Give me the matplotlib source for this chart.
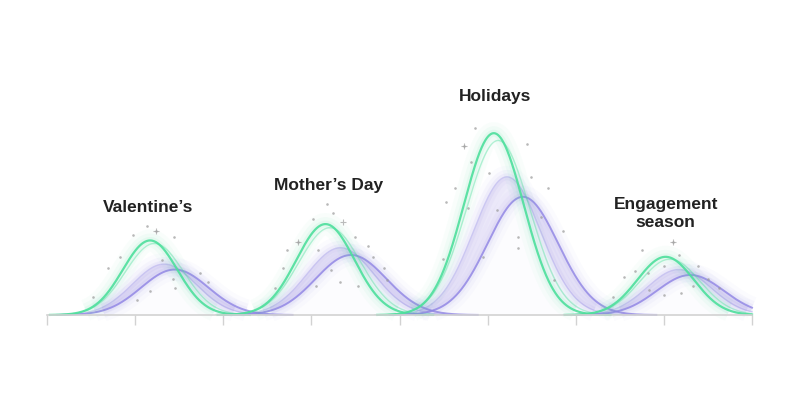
import numpy as np
import matplotlib.pyplot as plt

# seasonal peaks: green = searches, purple = purchases (band between two purple curves)
seasons = ["Valentine\u2019s", "Mother\u2019s Day", "Holidays", "Engagement\nseason"]
green_center = [1.17, 3.16, 5.07, 7.02]
green_height = [41, 50, 100, 32]
green_width = [0.31, 0.33, 0.34, 0.32]
purple_center = [1.45, 3.45, 5.40, 7.30]
purple_height = [25, 33, 65, 22]
purple_width = [0.38, 0.40, 0.40, 0.38]
band_center = [1.33, 3.33, 5.22, 7.17]
band_height = [28, 37, 76, 25]
band_width = [0.36, 0.38, 0.38, 0.36]
label_x = [1.15, 3.19, 5.08, 7.02]
label_y = [59, 71, 120, 56]

# sparkle dots
dot_x = [1.14, 1.24, 0.98, 1.44, 0.69, 1.30, 1.45, 0.52, 1.17, 1.74, 1.43, 1.02, 1.83, 0.83,
         3.18, 3.24, 3.02, 2.85, 2.72, 3.08, 3.49, 3.64, 3.70, 3.82, 3.53, 3.33, 3.22, 3.05, 2.59, 2.68, 3.86,
         4.86, 4.73, 5.45, 4.81, 5.01, 5.49, 4.63, 4.53, 5.68, 4.78, 5.11, 5.60, 5.34, 5.85, 4.49, 4.95, 5.75, 5.35,
         7.10, 6.75, 7.17, 6.55, 6.67, 6.82, 7.00, 7.39, 7.50, 7.63, 7.19, 7.00, 6.42, 6.83, 7.33]
dot_y = [49, 46, 44, 43, 26, 30, 15, 10, 13, 23, 20, 8, 18, 32,
         61, 56, 53, 40, 36, 36, 43, 38, 32, 26, 16, 18, 25, 16, 15, 26, 19,
         103, 93, 94, 84, 78, 76, 70, 62, 70, 59, 58, 54, 43, 46, 31, 32, 19, 37,
         40, 36, 33, 21, 24, 23, 27, 27, 20, 15, 12, 11, 10, 14, 16]
star_x = [3.36, 1.24, 2.85, 4.73, 7.10]
star_y = [51, 46, 40, 93, 40]

GREEN = "#4ddf9c"
PURPLE = "#8f84e4"

def bell(x, c, h, w):
    return h * np.exp(-0.5 * ((x - c) / w) ** 2)

def glow_line(ax, x, y, color, lw=1.6, alpha=0.9):
    yg = np.where(y > 2.5, y, np.nan)
    for gw, ga in [(16, 0.03), (10, 0.05), (5, 0.08)]:
        ax.plot(x, yg, color=color, lw=gw, alpha=ga, solid_capstyle="butt", clip_on=False)
    yl = np.where(y > 0.05, y, np.nan)
    ax.plot(x, yl, color=color, lw=lw, alpha=alpha, clip_on=False)

fig = plt.figure(figsize=(8, 4.2), dpi=100)
ax = fig.add_axes([47 / 800, 105 / 420, 705 / 800, 200 / 420])

x = np.linspace(0, 8, 1600)
for i in range(len(seasons)):
    pur = bell(x, purple_center[i], purple_height[i], purple_width[i])
    band = bell(x, band_center[i], band_height[i], band_width[i])
    grn = bell(x, green_center[i], green_height[i], green_width[i])
    grn2 = bell(x, green_center[i] + 0.05, green_height[i] * 0.96, green_width[i] * 1.06)

    ax.fill_between(x, np.minimum(pur, band), np.maximum(pur, band), color=PURPLE, alpha=0.13, lw=0)
    ax.fill_between(x, 0, np.maximum(pur, band), color=PURPLE, alpha=0.02, lw=0)
    glow_line(ax, x, band, PURPLE, lw=1.0, alpha=0.35)
    glow_line(ax, x, pur, PURPLE, lw=1.4, alpha=0.8)
    ax.plot(x, np.where(grn2 > 0.05, grn2, np.nan), color=GREEN, lw=1.0, alpha=0.4)
    glow_line(ax, x, grn, GREEN, lw=1.6, alpha=0.9)

    ax.text(label_x[i], label_y[i], seasons[i], ha="center", va="center",
            fontsize=12.5, fontweight="bold", color="#222222",
            family=["Liberation Sans", "DejaVu Sans"], linespacing=1.25)

ax.scatter(dot_x, dot_y, s=3.5, color="#9a9a9a", alpha=0.7, lw=0, zorder=5)
ax.scatter(star_x, star_y, s=14, marker="+", color="#a0a0a0", alpha=0.7, lw=0.8, zorder=5)

ax.set_xlim(0, 8)
ax.set_ylim(0, 110)
for s in ["top", "left", "right"]:
    ax.spines[s].set_visible(False)
ax.spines["bottom"].set_color("#d2d2d2")
ax.spines["bottom"].set_linewidth(1.2)
ax.set_xticks(range(9))
ax.set_xticklabels([])
ax.set_yticks([])
ax.tick_params(axis="x", direction="out", length=7, width=1, color="#d2d2d2")

fig.savefig("out.png", dpi=100, facecolor="white")
